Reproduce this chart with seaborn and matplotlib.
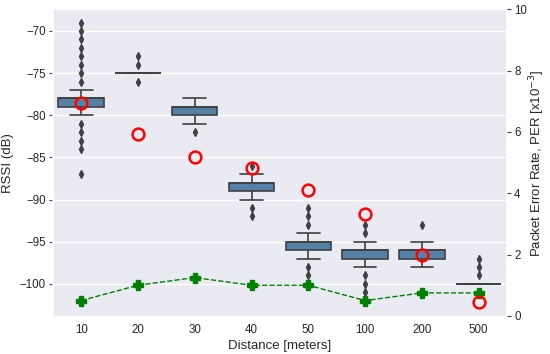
import numpy as np
import pandas as pd
import matplotlib
matplotlib.use("Agg")
import matplotlib.pyplot as plt
import seaborn as sns

# Distance categories
distances = ["10", "20", "30", "40", "50", "100", "200", "500"]

# RSSI samples per distance (values in dB and how many times each was observed)
rssi_10_values = [-87, -84, -83, -82, -81, -80, -79, -78, -77, -76, -75, -74, -73, -72, -71, -70, -69]
rssi_10_counts = [1, 1, 1, 1, 1, 4, 18, 24, 4, 1, 1, 1, 1, 1, 1, 1, 1]
rssi_20_values = [-76, -75, -74, -73]
rssi_20_counts = [1, 30, 1, 1]
rssi_30_values = [-82, -81, -80, -79, -78]
rssi_30_counts = [1, 4, 18, 24, 4]
rssi_40_values = [-92, -91, -90, -89, -88, -87, -86]
rssi_40_counts = [1, 1, 4, 18, 24, 4, 1]
rssi_50_values = [-100, -99, -98, -97, -96, -95, -94, -93, -92, -91]
rssi_50_counts = [1, 1, 1, 4, 18, 24, 4, 1, 1, 1]
rssi_100_values = [-102, -101, -100, -99, -98, -97, -96, -95, -94, -93]
rssi_100_counts = [1, 1, 1, 1, 4, 18, 24, 4, 1, 1]
rssi_200_values = [-98, -97, -96, -95, -93]
rssi_200_counts = [4, 18, 24, 4, 1]
rssi_500_values = [-101, -100, -99, -98, -97]
rssi_500_counts = [1, 30, 1, 1, 1]

# Packet error rate (x10^-3) per distance
per_red = [6.95, 5.92, 5.18, 4.83, 4.11, 3.31, 2.0, 0.44]
per_green = [0.5, 1.0, 1.25, 1.0, 1.0, 0.5, 0.75, 0.75]

value_lists = [rssi_10_values, rssi_20_values, rssi_30_values, rssi_40_values,
               rssi_50_values, rssi_100_values, rssi_200_values, rssi_500_values]
count_lists = [rssi_10_counts, rssi_20_counts, rssi_30_counts, rssi_40_counts,
               rssi_50_counts, rssi_100_counts, rssi_200_counts, rssi_500_counts]

rows = []
for d, vals, cnts in zip(distances, value_lists, count_lists):
    for v, c in zip(vals, cnts):
        rows.extend([(d, v)] * c)
df = pd.DataFrame(rows, columns=["Distance", "RSSI"])

sns.set_theme(style="darkgrid")
plt.rcParams["font.family"] = ["Liberation Sans", "DejaVu Sans"]

fig = plt.figure(figsize=(5.5, 3.54), dpi=100)
ax = fig.add_axes([0.096, 0.105, 0.826, 0.869])

sns.boxplot(data=df, x="Distance", y="RSSI", order=distances, color="steelblue",
            linecolor="0.25", linewidth=1.2, width=0.8, fliersize=4,
            flierprops=dict(marker="d", markerfacecolor="0.25", markeredgecolor="0.25"),
            ax=ax)
ax.set_ylim(-103.92, -67.42)
ax.set_xlim(-0.5, 7.5)
ax.set_xlabel("Distance [meters]", fontsize=9.5, labelpad=3)
ax.set_ylabel("RSSI (dB)", fontsize=9.5)
ax.tick_params(axis="y", labelsize=8.3, length=3, width=0.8, color="0.25", pad=2)
ax.tick_params(axis="x", labelsize=8.3, length=0, pad=5)

ax2 = ax.twinx()
xpos = np.arange(len(distances))
ax2.plot(xpos, per_green, linestyle="--", color="green", linewidth=1.0,
         marker="P", markersize=6.5, zorder=3)
ax2.plot(xpos, per_red, linestyle="none", marker="o", markersize=8.5,
         markerfacecolor="none", markeredgecolor="red", markeredgewidth=1.8, zorder=4)
ax2.set_ylim(-0.03, 10.0)
ax2.set_yticks([0, 2, 4, 6, 8, 10])
ax2.grid(False)
ax2.set_ylabel("Packet Error Rate, PER [x10$^{-3}$]", fontsize=9.5, labelpad=0)
ax2.tick_params(axis="y", labelsize=8.3, length=3, width=0.8, color="0.25", pad=2)
for s in ax2.spines.values():
    s.set_visible(False)

fig.savefig("out.png", dpi=100)
